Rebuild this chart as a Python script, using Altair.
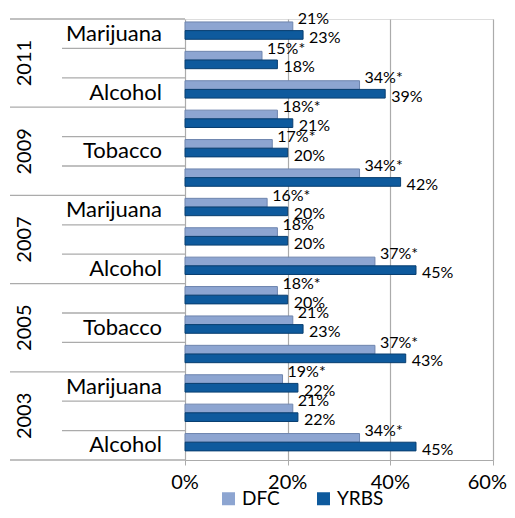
import altair as alt
import pandas as pd

years = ["2011", "2009", "2007", "2005", "2003"]
categories = ["Marijuana", "Tobacco", "Alcohol"]
series = ["DFC", "YRBS"]
dfc = [21, 15, 34, 18, 17, 34, 16, 18, 37, 18, 21, 37, 19, 21, 34]
yrbs = [23, 18, 39, 21, 20, 42, 20, 20, 45, 20, 23, 43, 22, 22, 45]
dfc_sig = [False, True, True, True, True, True, True, False, True, True, False, True, True, False, True]
x_ticks = [0, 20, 40, 60]

rows = [(y, c) for y in years for c in categories]
N = len(rows)

recs = []
for i, (y, c) in enumerate(rows):
    recs.append(dict(idx=i, year=y, category=c, series="DFC", value=dfc[i],
                     label=f"{dfc[i]}%" + ("*" if dfc_sig[i] else "")))
    recs.append(dict(idx=i, year=y, category=c, series="YRBS", value=yrbs[i],
                     label=f"{yrbs[i]}%"))
bars_df = pd.DataFrame(recs)

row_df = pd.DataFrame({
    "idx": list(range(N)),
    "year": [r[0] for r in rows],
    "category": [r[1] for r in rows],
})
tick_df = pd.DataFrame({"tick": x_ticks, "text": [f"{t}%" for t in x_ticks]})

FONT = "Lato"
LIGHT = "#8DA5D1"
DARK = "#0E5A9D"
GRID = "#ABABAB"

# layout fractions of a row band (styling)
BAR_TOP_DFC = 0.10
BAR_TOP_YRBS = 0.395
BAR_H = 0.295

yscale = alt.Scale(domain=[0, N], reverse=True, nice=False, zero=False)
xscale = alt.Scale(domain=[0, 60], nice=False, zero=True)

base = alt.Chart(bars_df).transform_calculate(
    top=f"datum.idx + (datum.series == 'DFC' ? {BAR_TOP_DFC} : {BAR_TOP_YRBS})",
).transform_calculate(
    bot=f"datum.top + {BAR_H}",
    mid=f"datum.top + {BAR_H / 2}",
)

bars = base.mark_bar(strokeWidth=1).encode(
    y=alt.Y("top:Q", scale=yscale, axis=None),
    y2="bot:Q",
    x=alt.X("value:Q", scale=xscale,
            axis=alt.Axis(values=x_ticks, labels=False, title=None,
                          grid=True, gridColor=GRID, gridWidth=1.2,
                          domainColor=GRID, tickColor=GRID, tickSize=5)),
    x2=alt.datum(0),
    color=alt.Color("series:N", scale=alt.Scale(domain=series, range=[LIGHT, DARK]),
                    legend=alt.Legend(orient="none", legendX=34, legendY=470,
                                      direction="horizontal", title=None,
                                      symbolType="square", symbolSize=169,
                                      symbolStrokeWidth=0, labelFont=FONT,
                                      labelFontSize=19, labelColor="#000000",
                                      columnPadding=34, labelOffset=4)),
    stroke=alt.Stroke("series:N", scale=alt.Scale(domain=series, range=["#6E85AE", "#083E70"]),
                      legend=None),
)

lbl_dfc = base.transform_filter(alt.datum.series == "DFC").mark_text(
    align="left", baseline="middle", dx=5, dy=-7, font=FONT, fontSize=16, color="#000000"
).encode(
    y=alt.Y("mid:Q", scale=yscale, axis=None),
    x="value:Q",
    text="label:N",
)
lbl_yrbs = base.transform_filter(alt.datum.series == "YRBS").mark_text(
    align="left", baseline="middle", dx=6, dy=3, font=FONT, fontSize=16, color="#000000"
).encode(
    y=alt.Y("mid:Q", scale=yscale, axis=None),
    x="value:Q",
    text="label:N",
)

# x tick labels (last one right-aligned so it stays inside the page)
tick_lbl = alt.Chart(tick_df).transform_filter("datum.tick < 60").mark_text(
    align="center", baseline="middle", font=FONT, fontSize=20, color="#000000"
).encode(x=alt.X("tick:Q", scale=xscale), y=alt.value(464), text="text:N")
tick_lbl_last = alt.Chart(tick_df).transform_filter("datum.tick == 60").mark_text(
    align="right", baseline="middle", dx=14, font=FONT, fontSize=20, color="#000000"
).encode(x=alt.X("tick:Q", scale=xscale), y=alt.value(464), text="text:N")

rbase = alt.Chart(row_df).transform_calculate(
    center="datum.idx + 0.5",
    show="datum.idx % 2 == 0",
    kind="datum.idx % 3 == 0 ? 'year' : 'cat'",
)

cat_text = rbase.transform_filter("datum.show").mark_text(
    align="right", baseline="middle", font=FONT, fontSize=22, color="#000000"
).encode(
    y=alt.Y("center:Q", scale=yscale, axis=None),
    x=alt.value(-23),
    text="category:N",
)

year_text = rbase.transform_filter(alt.datum.category == "Tobacco").mark_text(
    align="center", baseline="middle", angle=270, font=FONT, fontSize=20, color="#000000"
).encode(
    y=alt.Y("center:Q", scale=yscale, axis=None),
    x=alt.value(-160),
    text="year:N",
)

year_lines = rbase.transform_filter("datum.kind == 'year'").mark_rule(
    color=GRID, strokeWidth=1.3
).encode(
    y=alt.Y("idx:Q", scale=yscale, axis=None),
    x=alt.value(-175), x2=alt.value(0),
)
cat_lines = rbase.transform_filter("datum.kind == 'cat'").mark_rule(
    color=GRID, strokeWidth=1.3
).encode(
    y=alt.Y("idx:Q", scale=yscale, axis=None),
    x=alt.value(-123), x2=alt.value(0),
)
bottom_line = alt.Chart(pd.DataFrame({"pos": [N]})).mark_rule(
    color=GRID, strokeWidth=1.3
).encode(
    y=alt.Y("pos:Q", scale=yscale, axis=None),
    x=alt.value(-175), x2=alt.value(0),
)

chart = alt.layer(
    year_lines, cat_lines, bottom_line, bars, lbl_dfc, lbl_yrbs,
    tick_lbl, tick_lbl_last, cat_text, year_text
).properties(
    width=308, height=441,
    autosize=alt.AutoSizeParams(type="none"),
    padding={"left": 177, "top": 11, "right": 14, "bottom": 50},
).configure_view(stroke=None).configure(background="white")

chart.save("out.html", embed_options={"renderer": "svg", "actions": False})
